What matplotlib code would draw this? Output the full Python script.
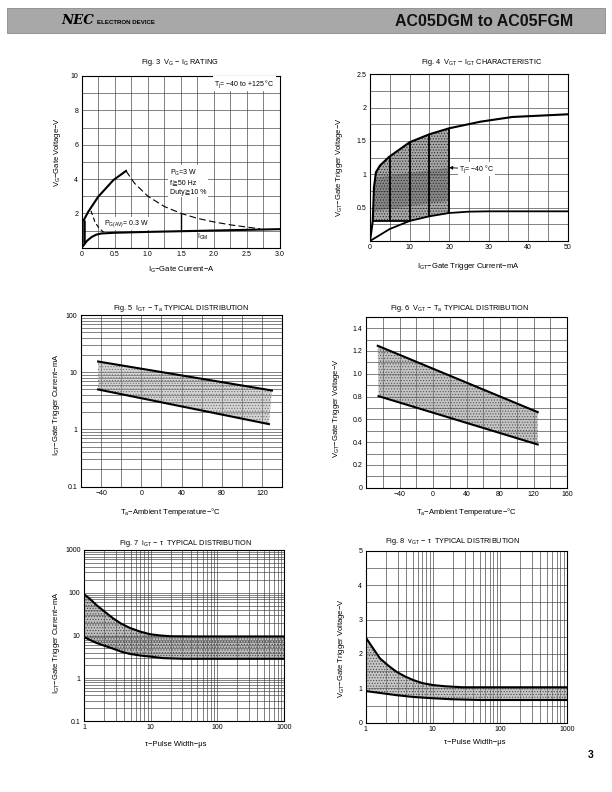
import matplotlib.pyplot as plt
from matplotlib.patches import Rectangle

plt.rcParams['font.family'] = ['Liberation Sans', 'DejaVu Sans']
plt.rcParams['mathtext.default'] = 'regular'
plt.rcParams['hatch.linewidth'] = 0.5

# ---- Fig. 3  VG - IG rating ----
f3_up_i = [0.03, 0.1, 0.25, 0.48, 0.67]
f3_up_v = [1.6, 2.1, 2.97, 3.94, 4.47]
f3_pg_i = [0.67, 0.8, 1.0, 1.25, 1.5, 1.75, 2.0, 2.25, 2.5, 2.7]
f3_pg_v = [4.47, 3.75, 3.0, 2.4, 2.0, 1.71, 1.5, 1.33, 1.2, 1.1]
f3_av_i = [0.14, 0.2, 0.25, 0.33]
f3_av_v = [2.15, 1.5, 1.2, 0.9]
f3_lo_i = [0.0, 0.03, 0.08, 0.15, 0.22, 0.3, 0.5, 1.0, 1.5, 2.0, 2.5, 3.0]
f3_lo_v = [0.0, 0.15, 0.4, 0.62, 0.76, 0.83, 0.87, 0.92, 0.96, 1.0, 1.04, 1.08]

# ---- Fig. 4  VGT - IGT characteristic ----
f4_up_i = [0, 0.7, 1.0, 1.5, 2.5, 4.8, 10, 15, 20, 28, 36, 50]
f4_up_v = [0, 0.3, 0.8, 1.03, 1.13, 1.26, 1.48, 1.6, 1.69, 1.79, 1.86, 1.9]
f4_lo_i = [0, 5, 10, 15, 20, 25, 30, 50]
f4_lo_v = [0, 0.18, 0.3, 0.37, 0.42, 0.44, 0.445, 0.445]
f4_bar_i = [5, 10, 15, 20]
f4_bar_lo = [0.3, 0.3, 0.37, 0.42]
f4_bar_hi = [1.27, 1.48, 1.6, 1.69]
f4_band_i = [1.2, 20]
f4_band_lo = [0.45, 0.6]
f4_band_hi = [0.95, 1.1]

# ---- Fig. 5  IGT - Ta ----
f5_up_t = [-43, 130]
f5_up_v = [15.4, 4.8]
f5_lo_t = [-43, 127]
f5_lo_v = [5.0, 1.24]

# ---- Fig. 6  VGT - Ta ----
f6_up_t = [-66, 125]
f6_up_v = [1.245, 0.663]
f6_lo_t = [-65, 125]
f6_lo_v = [0.803, 0.379]

# ---- Fig. 7  iGT - tau ----
f7_up_t = [1, 1.25, 1.55, 2.0, 2.75, 3.6, 4.9, 7.0, 9.8, 14, 20, 50, 1000]
f7_up_v = [93, 70, 51, 37, 25, 19, 15, 12.3, 10.7, 10.0, 9.6, 9.5, 9.5]
f7_lo_t = [1, 1.5, 2.0, 2.75, 3.6, 4.9, 7.0, 10, 15.5, 30, 1000]
f7_lo_v = [9.2, 6.8, 5.8, 4.9, 4.2, 3.7, 3.4, 3.2, 2.95, 2.85, 2.85]

# ---- Fig. 8  vGT - tau ----
f8_up_t = [1, 1.3, 1.63, 2.2, 2.88, 3.8, 5.1, 7.0, 10, 15, 28, 1000]
f8_up_v = [2.48, 2.15, 1.87, 1.65, 1.48, 1.35, 1.24, 1.15, 1.095, 1.06, 1.03, 1.03]
f8_lo_t = [1, 1.7, 2.88, 5.0, 10, 20, 50, 1000]
f8_lo_v = [0.92, 0.86, 0.80, 0.75, 0.71, 0.68, 0.66, 0.66]

fig = plt.figure(figsize=(6.12, 7.92), dpi=100)

# header band
fig.patches.append(Rectangle((7 / 612, 1 - 33 / 792), 598 / 612, 25 / 792,
                             transform=fig.transFigure, facecolor='#a8a8a8',
                             edgecolor='#8a8a8a', lw=0.6))
fig.text(61 / 612, 1 - 21 / 792, 'NEC', family='DejaVu Serif', fontsize=9.5,
         weight='bold', style='italic', va='center')
fig.text(97 / 612, 1 - 22 / 792, 'ELECTRON DEVICE', fontsize=4.4, weight='bold',
         va='center')
fig.text(573 / 612, 1 - 21 / 792, 'AC05DGM to AC05FGM', fontsize=11.5,
         weight='bold', ha='right', va='center', color='#111111')
fig.text(591 / 612, 1 - 755 / 792, '3', fontsize=7.5, weight='bold',
         ha='center', va='center')

GRID = '#3c3c3c'
CURVE = 'black'


def add_ax(l, r, t, b):
    return fig.add_axes([l / 612, 1 - b / 792, (r - l) / 612, (b - t) / 792])


def shade(ax, xs, ys, face, dots, alpha=0.55):
    # stippled grey area like the printed sheet
    ax.fill(xs, ys, facecolor=face, alpha=alpha, lw=0)
    ax.fill(xs, ys, facecolor='none', edgecolor=dots, hatch='......', lw=0)


def finish(ax, title, tx, ty, xlabel, xlx, xly, ylabel, ylx, yly):
    ax.text(tx, ty, title, transform=ax.transAxes, ha='center', va='center',
            fontsize=5.3)
    ax.set_xlabel(xlabel, fontsize=5.5)
    ax.xaxis.set_label_coords(xlx, xly)
    ax.set_ylabel(ylabel, fontsize=5.5)
    ax.yaxis.set_label_coords(ylx, yly)
    ax.tick_params(which='both', length=0, labelsize=5, pad=2.5)
    ax.grid(which='both', color=GRID, lw=0.45)
    ax.set_axisbelow(True)
    for s in ax.spines.values():
        s.set_linewidth(0.8)


def decade_lines(lo, hi):
    out = []
    e = lo
    while e < hi:
        out += [k * 10 ** e for k in range(2, 10)]
        e += 1
    return out


# ===== Fig. 3 =====
ax = add_ax(81.7, 280, 76, 247.7)
ax.set_xlim(0, 3)
ax.set_ylim(0, 10)
ax.set_xticks([0, 0.5, 1.0, 1.5, 2.0, 2.5, 3.0],
              ['0', '0.5', '1.0', '1.5', '2.0', '2.5', '3.0'])
ax.set_xticks([0.25, 0.75, 1.25, 1.75, 2.25, 2.75], minor=True)
ax.set_yticks([2, 4, 6, 8, 10])
ax.set_yticks([1, 3, 5, 7, 9], minor=True)
ax.plot(f3_up_i, f3_up_v, color=CURVE, lw=1.5)
ax.plot(f3_pg_i, f3_pg_v, color=CURVE, lw=0.8, ls=(0, (6, 3)))
ax.plot(f3_av_i, f3_av_v, color=CURVE, lw=0.8, ls=(0, (4, 2.5)))
ax.plot(f3_lo_i, f3_lo_v, color=CURVE, lw=1.5)
ax.vlines(f3_up_i[0], 0.3, f3_up_v[0], color=CURVE, lw=1.8)
ax.vlines(1.5, 0.95, 2.0, color=CURVE, lw=1.0)
box = dict(facecolor='white', edgecolor='none', pad=1.0)
ax.text(2.0, 9.55, 'T$_j$= −40 to +125 °C', fontsize=5, bbox=box, va='center')
ax.text(1.33, 3.85, 'P$_G$=3 W\nf≧50 Hz\nDuty≧10 %', fontsize=5, bbox=box,
        va='center', linespacing=1.4)
ax.text(0.33, 1.42, 'P$_{G(AV)}$= 0.3 W', fontsize=5, bbox=box, va='center')
ax.text(1.75, 0.62, 'I$_{GM}$', fontsize=5, va='center')
finish(ax, 'Fig. 3  V$_G$ − I$_G$ RATING', 0.496, 1.08,
       'I$_G$−Gate Current−A', 0.5, -0.10,
       'V$_G$−Gate Voltage−V', -0.094, 0.56)

# ===== Fig. 4 =====
ax = add_ax(370, 567.7, 74.3, 241)
ax.set_xlim(0, 50)
ax.set_ylim(0, 2.5)
ax.set_xticks([0, 10, 20, 30, 40, 50])
ax.set_xticks([5, 15, 25, 35, 45], minor=True)
ax.set_yticks([0.5, 1, 1.5, 2, 2.5], ['0.5', '1', '1.5', '2', '2.5'])
ax.set_yticks([0.25, 0.75, 1.25, 1.75, 2.25], minor=True)
poly_x = f4_up_i[1:9] + [f4_bar_i[3], f4_bar_i[2], f4_bar_i[1], f4_up_i[1]]
poly_y = f4_up_v[1:9] + [f4_bar_lo[3], f4_bar_lo[2], f4_bar_lo[1], f4_up_v[1]]
shade(ax, poly_x, poly_y, '#6e6e6e', '#2a2a2a', alpha=0.6)
ax.fill([f4_band_i[0], f4_band_i[1], f4_band_i[1], f4_band_i[0]],
        [f4_band_lo[0], f4_band_lo[1], f4_band_hi[1], f4_band_hi[0]],
        color='#3a3a3a', alpha=0.3, lw=0)
ax.plot(f4_up_i, f4_up_v, color=CURVE, lw=1.5)
ax.plot(f4_lo_i, f4_lo_v, color=CURVE, lw=1.3)
ax.hlines(0.3, 0.7, 10, color=CURVE, lw=1.3)
ax.vlines(f4_bar_i, f4_bar_lo, f4_bar_hi, color=CURVE, lw=1.3)
ax.annotate('T$_j$= −40 °C', xy=(20, 1.1), xytext=(22.5, 1.08), fontsize=5,
            va='center', bbox=dict(facecolor='white', edgecolor='none', pad=0.8),
            arrowprops=dict(arrowstyle='-|>', color='black', lw=0.6,
                            mutation_scale=5, shrinkA=0, shrinkB=0))
finish(ax, 'Fig. 4  V$_{GT}$ − I$_{GT}$ CHARACTERISTIC', 0.565, 1.072,
       'I$_{GT}$−Gate Trigger Current−mA', 0.496, -0.12,
       'V$_{GT}$−Gate Trigger Voltage−V', -0.126, 0.44)

# ===== Fig. 5 =====
ax = add_ax(81, 282, 315, 486.7)
ax.set_yscale('log')
ax.set_xlim(-60, 140)
ax.set_ylim(0.1, 100)
ax.set_xticks([-40, 0, 40, 80, 120])
ax.set_xticks([-20, 20, 60, 100], minor=True)
ax.set_yticks([0.1, 1, 10, 100], ['0.1', '1', '10', '100'])
ax.set_yticks(decade_lines(-1, 2), minor=True)
ax.yaxis.set_minor_formatter(plt.NullFormatter())
shade(ax, [f5_up_t[0], f5_up_t[1], f5_lo_t[1], f5_lo_t[0]],
      [f5_up_v[0], f5_up_v[1], f5_lo_v[1], f5_lo_v[0]], '#a0a0a0', '#707070',
      alpha=0.45)
ax.plot(f5_up_t, f5_up_v, color=CURVE, lw=1.5)
ax.plot(f5_lo_t, f5_lo_v, color=CURVE, lw=1.5)
finish(ax, 'Fig. 5  I$_{GT}$ − T$_a$ TYPICAL DISTRIBUTION', 0.50, 1.035,
       'T$_a$−Ambient Temperature−°C', 0.443, -0.11,
       'I$_{GT}$−Gate Trigger Current−mA', -0.095, 0.476)

# ===== Fig. 6 =====
ax = add_ax(366, 567, 316.7, 487.7)
ax.set_xlim(-80, 160)
ax.set_ylim(0, 1.5)
ax.set_xticks([-40, 0, 40, 80, 120, 160])
ax.set_xticks([-60, -20, 20, 60, 100, 140], minor=True)
ax.set_yticks([0, 0.2, 0.4, 0.6, 0.8, 1.0, 1.2, 1.4],
              ['0', '0.2', '0.4', '0.6', '0.8', '1.0', '1.2', '1.4'])
ax.set_yticks([0.1, 0.3, 0.5, 0.7, 0.9, 1.1, 1.3], minor=True)
shade(ax, [f6_up_t[0], f6_up_t[1], f6_lo_t[1], f6_lo_t[0]],
      [f6_up_v[0], f6_up_v[1], f6_lo_v[1], f6_lo_v[0]], '#8a8a8a', '#555555',
      alpha=0.5)
ax.plot(f6_up_t, f6_up_v, color=CURVE, lw=1.5)
ax.plot(f6_lo_t, f6_lo_v, color=CURVE, lw=1.5)
finish(ax, 'Fig. 6  V$_{GT}$ − T$_a$ TYPICAL DISTRIBUTION', 0.468, 1.049,
       'T$_a$−Ambient Temperature−°C', 0.50, -0.105,
       'V$_{GT}$−Gate Trigger Voltage−V', -0.12, 0.466)

# ===== Fig. 7 =====
ax = add_ax(84, 284, 550, 721)
ax.set_xscale('log')
ax.set_yscale('log')
ax.set_xlim(1, 1000)
ax.set_ylim(0.1, 1000)
ax.set_xticks([1, 10, 100, 1000], ['1', '10', '100', '1000'])
ax.set_xticks(decade_lines(0, 3), minor=True)
ax.set_yticks([0.1, 1, 10, 100, 1000], ['0.1', '1', '10', '100', '1000'])
ax.set_yticks(decade_lines(-1, 3), minor=True)
ax.xaxis.set_minor_formatter(plt.NullFormatter())
ax.yaxis.set_minor_formatter(plt.NullFormatter())
shade(ax, f7_up_t + f7_lo_t[::-1], f7_up_v + f7_lo_v[::-1], '#7e7e7e',
      '#444444', alpha=0.5)
ax.plot(f7_up_t, f7_up_v, color=CURVE, lw=1.5)
ax.plot(f7_lo_t, f7_lo_v, color=CURVE, lw=1.5)
finish(ax, 'Fig. 7  i$_{GT}$ − τ  TYPICAL DISTRIBUTION', 0.51, 1.039,
       'τ−Pulse Width−μs', 0.46, -0.115,
       'I$_{GT}$−Gate Trigger Current−mA', -0.11, 0.456)

# ===== Fig. 8 =====
ax = add_ax(365.7, 567, 550.7, 722.7)
ax.set_xscale('log')
ax.set_xlim(1, 1000)
ax.set_ylim(0, 5)
ax.set_xticks([1, 10, 100, 1000], ['1', '10', '100', '1000'])
ax.set_xticks(decade_lines(0, 3), minor=True)
ax.xaxis.set_minor_formatter(plt.NullFormatter())
ax.set_yticks([0, 1, 2, 3, 4, 5])
ax.set_yticks([0.5, 1.5, 2.5, 3.5, 4.5], minor=True)
shade(ax, f8_up_t + f8_lo_t[::-1], f8_up_v + f8_lo_v[::-1], '#8e8e8e',
      '#4a4a4a', alpha=0.5)
ax.plot(f8_up_t, f8_up_v, color=CURVE, lw=1.5)
ax.plot(f8_lo_t, f8_lo_v, color=CURVE, lw=1.5)
finish(ax, 'Fig. 8  v$_{GT}$ − τ  TYPICAL DISTRIBUTION', 0.434, 1.052,
       'τ−Pulse Width−μs', 0.54, -0.095,
       'V$_{GT}$−Gate Trigger Voltage−V', -0.093, 0.434)

fig.savefig('out.png', dpi=100)
